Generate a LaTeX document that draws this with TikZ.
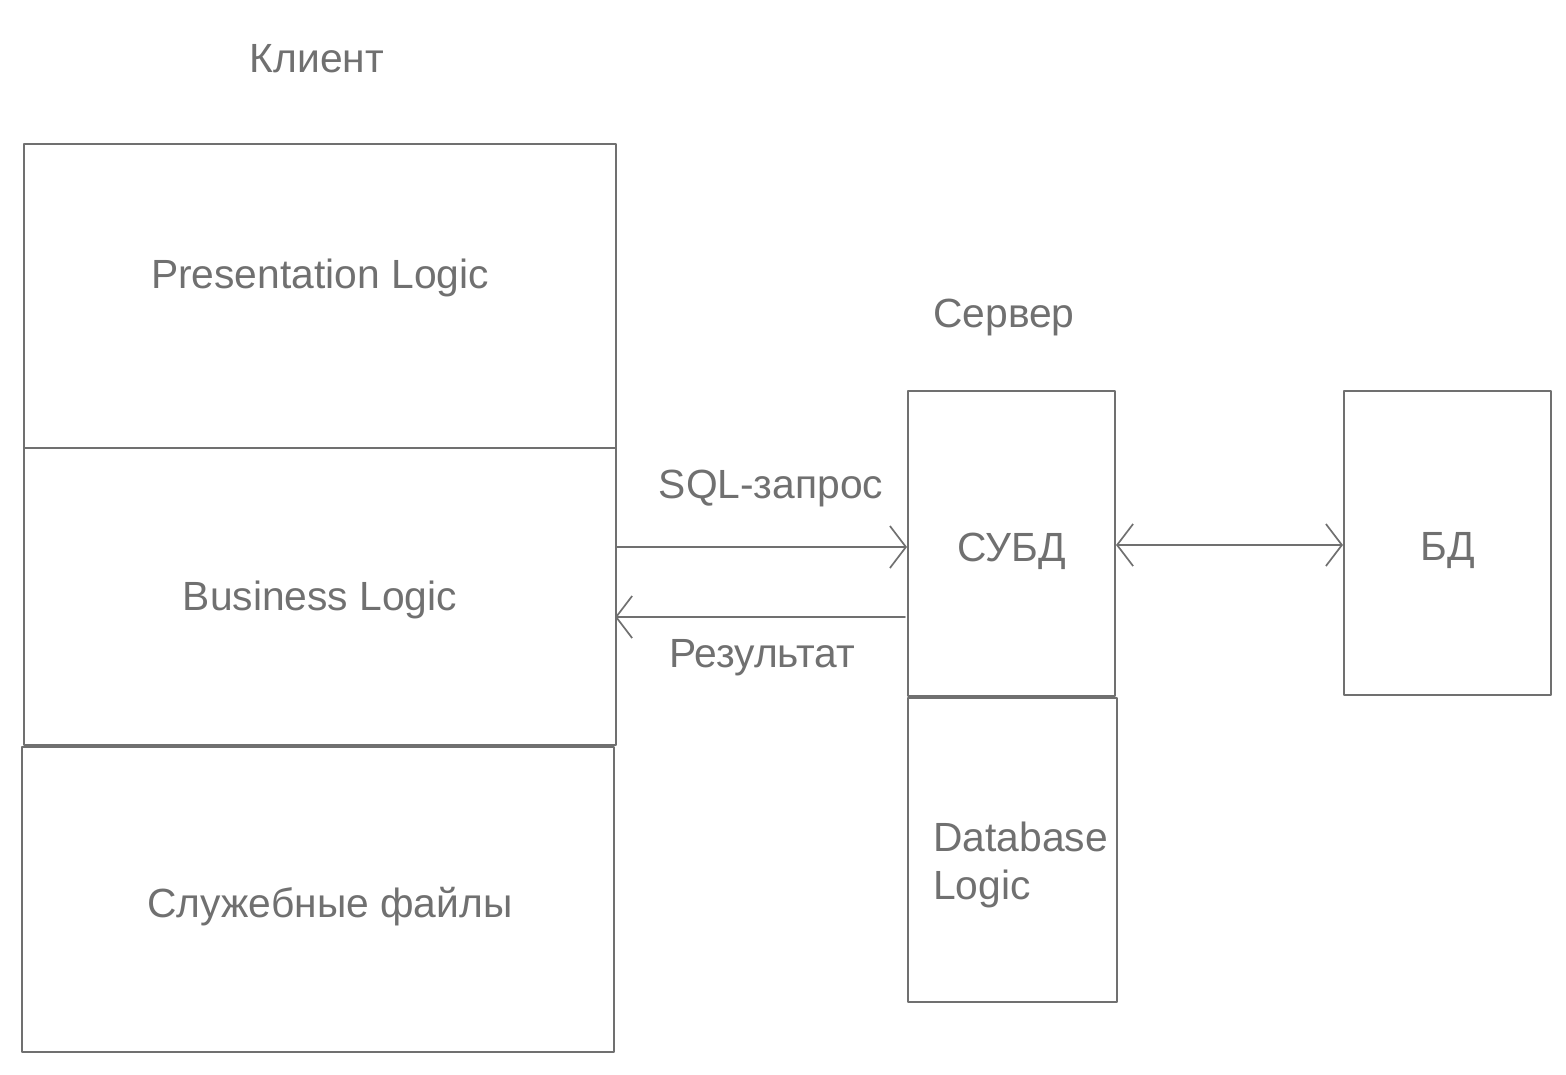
\documentclass[tikz,border=0pt]{standalone}
\usepackage{fontspec}
\setmainfont{Liberation Sans}
\usetikzlibrary{arrows.meta}
\definecolor{linegray}{RGB}{112,112,112}
\begin{document}
\begin{tikzpicture}[x=0.025cm, y=-0.025cm, line join=round, line cap=round,
  font=\fontsize{29}{35}\selectfont, text=linegray,
  box/.style={draw=linegray, line width=1.4pt, inner sep=0pt},
  arr/.style={draw=linegray, line width=1.2pt, -{Straight Barb[length=0.4cm, width=1.05cm, line width=1.2pt]}},
  darr/.style={draw=linegray, line width=1.2pt, {Straight Barb[length=0.4cm, width=1.05cm, line width=1.2pt]}-{Straight Barb[length=0.4cm, width=1.05cm, line width=1.2pt]}}]
\useasboundingbox (0,0) rectangle (1566,1074);
% client side
\node (client) at (317,59) {Клиент};
\node[box, minimum width=14.8cm, minimum height=7.6cm] (pres) at (320,296) {};
\node[box, minimum width=14.8cm, minimum height=7.425cm] (bus) at (320,596.5) {};
\node[box, minimum width=14.8cm, minimum height=7.625cm] (files) at (318,899.5) {};
\node (prestext) at (320,278) {Presentation Logic};
\node (bustext) at (320,600) {Business Logic};
\node (filestext) at (330,907) {Служебные файлы};
% server side
\node (server) at (1004,317) {Сервер};
\node[box, minimum width=5.175cm, minimum height=7.625cm] (dbms) at (1011.5,543.5) {};
\node (dbmstext) at (1012,551) {СУБД};
\node[box, minimum width=5.225cm, minimum height=7.6cm] (dbl) at (1012.5,850) {};
\node[anchor=west, align=left, font=\fontsize{29}{34}\selectfont, inner sep=0pt] (dbltext) at (933,865) {Database\\Logic};
\node[box, minimum width=5.175cm, minimum height=7.6cm] (db) at (1447.5,543) {};
\node (dbtext) at (1448,551) {БД};
% connectors
\coordinate (qy) at (0,547);
\coordinate (ry) at (0,617);
\draw[arr] (bus.east |- qy) -- (dbms.west |- qy);
\draw[arr] ([xshift=-0.05cm]dbms.west |- ry) -- ([xshift=-0.05cm]bus.east |- ry);
\draw[darr] (dbms.east |- 0,545) -- (db.west |- 0,545);
\node (query) at (771,488) {SQL-запрос};
\node (result) at (762,658) {Результат};
\end{tikzpicture}
\end{document}
